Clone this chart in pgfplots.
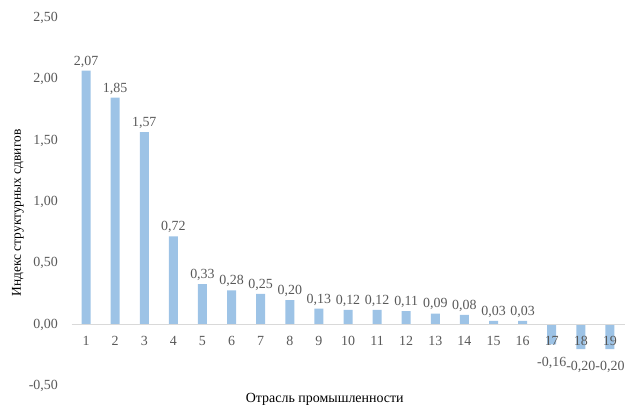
\documentclass[border=0pt]{standalone}
\usepackage{fontspec}
\setmainfont{Liberation Serif}
\usepackage{pgfplots}
\pgfplotsset{compat=1.18}
\definecolor{barblue}{HTML}{9DC3E6}
\definecolor{txtgray}{HTML}{595959}
\definecolor{linegray}{HTML}{D9D9D9}
\begin{document}
\begin{tikzpicture}[x=1bp,y=1bp]
\begin{axis}[
  at={(71.5bp,21bp)}, anchor=south west,
  scale only axis,
  width=553bp, height=368bp,
  font=\fontsize{14}{16}\selectfont,
  /pgf/number format/assume math mode=true,
  ybar, bar width=9bp,
  xmin=0.5, xmax=19.5,
  ymin=-0.5, ymax=2.5,
  ytick={-0.5,0,0.5,1,1.5,2,2.5},
  yticklabel style={/pgf/number format/fixed,/pgf/number format/zerofill,/pgf/number format/precision=2,/pgf/number format/use comma,xshift=-8bp},
  xtick={1,...,19},
  axis x line=middle, axis y line=left,
  axis on top,
  hide obscured x ticks=false, hide obscured y ticks=false,
  x axis line style={-, draw=linegray, line width=0.75bp},
  y axis line style={draw=none},
  major tick style={draw=none},
  tick label style={text=txtgray, font=\fontsize{14}{16}\selectfont},
  xticklabel style={yshift=-6bp},
  visualization depends on=rawy \as \rawy,
  nodes near coords={\pgfmathprintnumber[fixed,zerofill,precision=2,use comma]{\pgfplotspointmeta}},
  every node near coord/.append style={text=txtgray, font=\fontsize{14}{16}\selectfont, yshift={ifthenelse(\rawy<0,-9,0)}},
  ylabel={Индекс структурных сдвигов},
  ylabel style={at={(rel axis cs:-0.0967,0.47)}, anchor=center, text=black, font=\fontsize{13.5}{16}\selectfont},
  xlabel={Отрасль промышленности},
  xlabel style={at={(rel axis cs:0.458,0)}, anchor=south, inner sep=0pt, yshift=-20bp, text=black, font=\fontsize{14}{16}\selectfont},
  clip=false,
]
\addplot[fill=barblue, draw=none] coordinates {
(1,2.07) (2,1.85) (3,1.57) (4,0.72) (5,0.33) (6,0.28) (7,0.25) (8,0.20)
(9,0.13) (10,0.12) (11,0.12) (12,0.11) (13,0.09) (14,0.08) (15,0.03)
(16,0.03) (17,-0.16) (18,-0.20) (19,-0.20)};
\end{axis}
\pgfresetboundingbox
\useasboundingbox (0,0) rectangle (627bp,407bp);
\end{tikzpicture}
\end{document}
